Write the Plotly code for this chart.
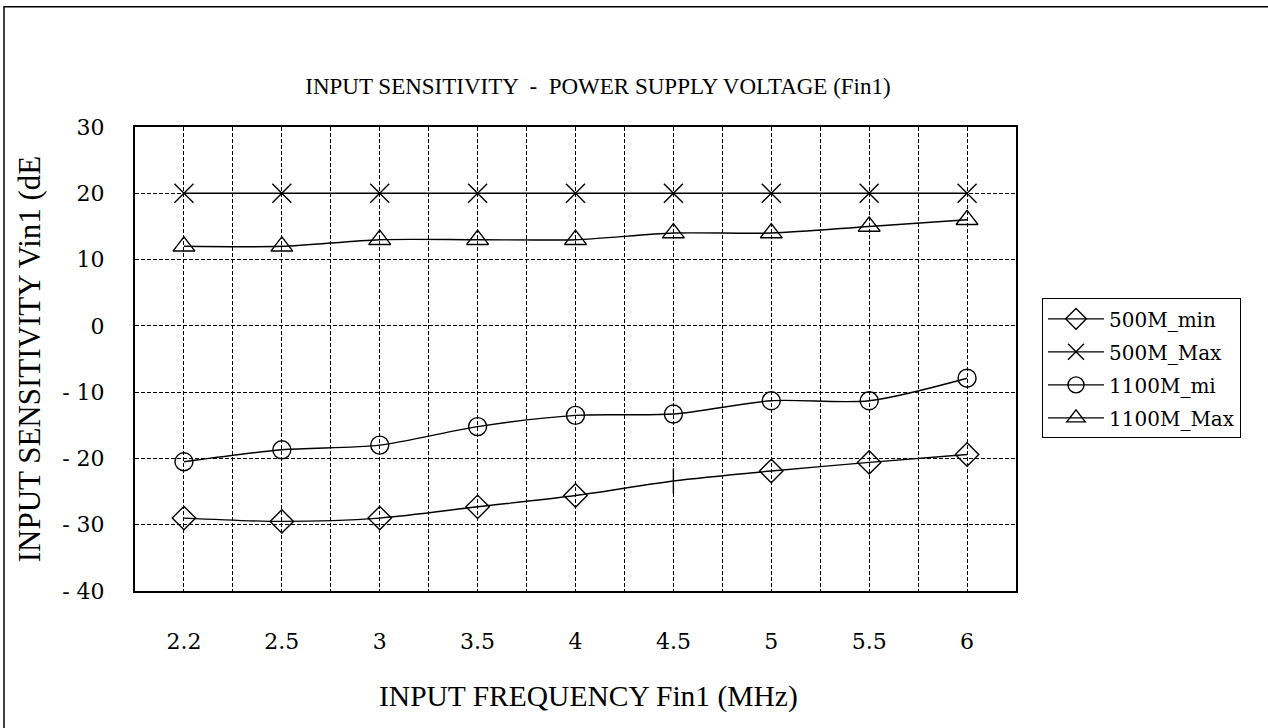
import plotly.graph_objects as go

categories = ["2.2", "2.5", "3", "3.5", "4", "4.5", "5", "5.5", "6"]
s500_min = [-29.0, -29.5, -29.0, -27.3, -25.6, -23.4, -21.9, -20.6, -19.4]
s500_max = [20, 20, 20, 20, 20, 20, 20, 20, 20]
s1100_mi = [-20.5, -18.7, -18.0, -15.2, -13.5, -13.3, -11.3, -11.3, -7.9]
s1100_max = [12, 12, 13, 13, 13, 14, 14, 15, 16]
series_names = ["500M_min", "500M_Max", "1100M_mi", "1100M_Max"]
y_tickvals = [30, 20, 10, 0, -10, -20, -30, -40]
y_ticktext = ["30", "20", "10", "0", "- 10", "- 20", "- 30", "- 40"]
title_text = "INPUT SENSITIVITY  -  POWER SUPPLY VOLTAGE (Fin1)"
x_title = "INPUT FREQUENCY Fin1 (MHz)"
y_title = "INPUT SENSITIVITY Vin1 (dE"

xi = list(range(len(categories)))
fig = go.Figure()

sym_min = ["diamond-open"] * len(categories)
sym_min[5] = "line-ns-open"
series = [
    (s500_min, sym_min, 18),
    (s500_max, "x-thin-open", 19),
    (s1100_mi, "circle-open", 18),
    (s1100_max, "triangle-up-open", 19),
]
for i, (vals, sym, sz) in enumerate(series):
    fig.add_trace(go.Scatter(
        x=xi, y=vals, name=series_names[i], mode="lines+markers",
        line=dict(color="black", width=1.4, shape="spline", smoothing=0.8),
        marker=dict(symbol=sym, size=sz, color="black", line=dict(color="black", width=1.4)),
        legendgroup=series_names[i],
    ))

tickfont = dict(family="DejaVu Serif", size=22, color="black")
gridstyle = dict(gridcolor="black", gridwidth=1, griddash="4px,2px")
fig.update_layout(
    width=1268, height=728,
    margin=dict(l=135, r=252, t=127, b=137),
    paper_bgcolor="white", plot_bgcolor="white",
    title=dict(text=title_text,
               x=598 / 1268, xanchor="center", y=1 - 86 / 728, yanchor="middle",
               font=dict(family="Liberation Serif", size=23, color="black")),
    xaxis=dict(range=[-0.5, len(categories) - 0.5], tickvals=xi, ticktext=categories,
               showgrid=True, **gridstyle, zeroline=False,
               showline=True, linecolor="black", linewidth=2, mirror=True,
               ticks="", ticklabelstandoff=30, tickfont=tickfont,
               minor=dict(tickvals=[v + 0.5 for v in xi[:-1]], showgrid=True, **gridstyle)),
    yaxis=dict(range=[-40, 30], tickvals=y_tickvals, ticktext=y_ticktext,
               showgrid=True, **gridstyle, zeroline=False,
               showline=True, linecolor="black", linewidth=2, mirror=True,
               ticks="", ticklabelstandoff=24, tickfont=tickfont,
               title=dict(text=y_title, standoff=12,
                          font=dict(family="Liberation Serif", size=31, color="black"))),
    legend=dict(x=(1042 - 135) / 881, xanchor="left", y=(591 - 299) / 463, yanchor="top",
                bordercolor="black", borderwidth=1, bgcolor="white",
                traceorder="grouped", tracegroupgap=4, itemwidth=56,
                font=dict(family="DejaVu Serif", size=20, color="black")),
    showlegend=True,
)
fig.add_annotation(text=x_title, xref="paper", yref="paper",
                   x=(588 - 135) / 881, y=(591 - 696) / 463, xanchor="center", yanchor="middle",
                   showarrow=False, font=dict(family="Liberation Serif", size=29.5, color="black"))
fig.add_shape(type="rect", xref="paper", yref="paper",
              x0=(4 - 135) / 881, x1=(1275 - 135) / 881,
              y0=(591 - 740) / 463, y1=(591 - 8) / 463,
              line=dict(color="black", width=1.5), fillcolor="rgba(0,0,0,0)", layer="below")
fig.write_html("out.html", config={"displayModeBar": False},
               post_script="document.body.style.margin='0px';document.body.style.overflow='hidden';")
